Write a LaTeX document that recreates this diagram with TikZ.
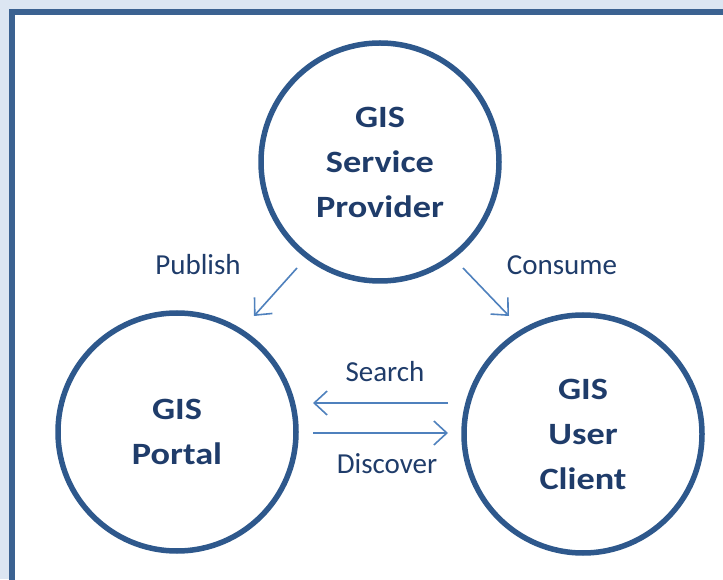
\documentclass[tikz,border=0pt]{standalone}
\usepackage{fontspec}
\setmainfont{Carlito}
\newfontfamily\gisfont[FakeStretch=1.17]{Carlito}
\usepackage{tikz}
\usetikzlibrary{arrows.meta}
\definecolor{pagebg}{RGB}{220,230,242}
\definecolor{framecol}{RGB}{59,98,145}
\definecolor{ringcol}{RGB}{46,88,140}
\definecolor{textcol}{RGB}{31,60,106}
\definecolor{flowcol}{RGB}{79,129,189}
\tikzset{role/.style={circle,draw=ringcol,line width=5.5pt,minimum size=238pt,inner sep=0pt,outer sep=0pt,text=textcol,align=center,font=\gisfont\bfseries\fontsize{31}{45}\selectfont}}

\begin{document}
\begin{tikzpicture}[x=1pt,y=1pt]
\tikzstyle{flow} = [draw=flowcol, line width=1.6pt, -{Straight Barb[length=13pt,width=24pt]}]
\tikzstyle{verb} = [text=textcol, anchor=base, font=\fontsize{29}{34}\selectfont]
\useasboundingbox (0,0) rectangle (723,579);
\fill[pagebg] (0,0) rectangle (723,579);
\clip (0,0) rectangle (723,579);
\draw[framecol, line width=6pt, fill=white] (12,567) rectangle (760,-30);

\node[role](provider) at (380,417){GIS\\Service\\Provider};
\node[role](portal) at (177,147){GIS\\Portal};
\node[role](client) at (583,145){GIS\\User\\Client};

\coordinate (pubA) at (297,311);
\coordinate (pubB) at (254,263);
\coordinate (conA) at (463,311);
\coordinate (conB) at (509,263);
\coordinate (seaA) at (448,176);
\coordinate (seaB) at (313,176);
\coordinate (disA) at (313,146);
\coordinate (disB) at (448,146);

\draw[flow] (pubA) -- (pubB);
\draw[flow] (conA) -- (conB);
\draw[flow] (seaA) -- (seaB);
\draw[flow] (disA) -- (disB);

\node[verb](publish) at (198,304){Publish};
\node[verb](consume) at (562,304){Consume};
\node[verb](search) at (385,197){Search};
\node[verb](discover) at (387,106){Discover};
\end{tikzpicture}
\end{document}
